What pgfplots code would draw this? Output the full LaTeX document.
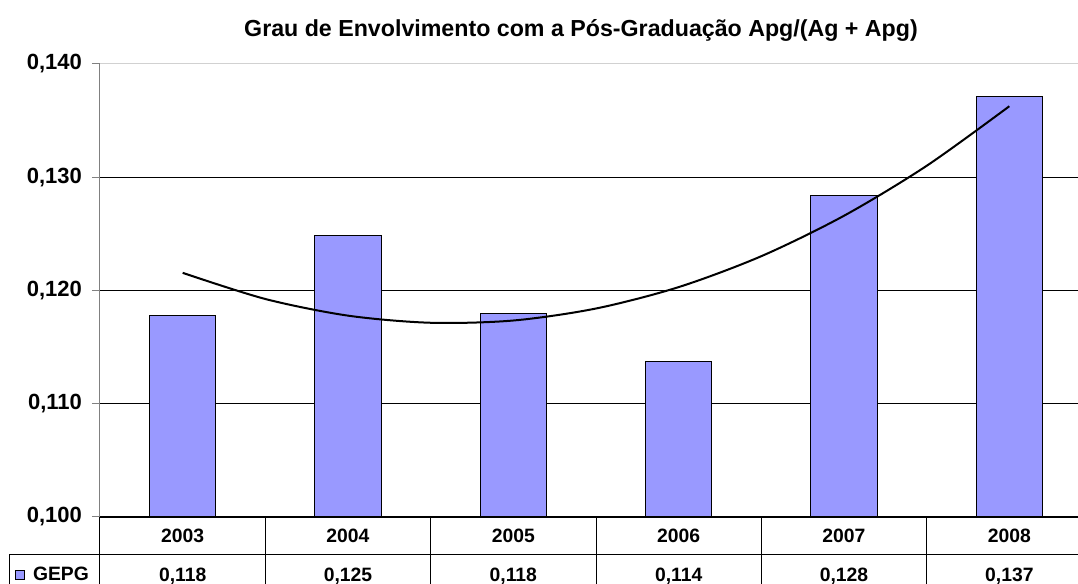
\documentclass[border=0pt]{standalone}
\usepackage{pgfplots}
\pgfplotsset{compat=1.18}
\usepackage{fontspec}
\setmainfont{Liberation Sans}
\definecolor{barblue}{HTML}{9999FF}
\definecolor{axgray}{HTML}{808080}
\begin{document}
\begin{tikzpicture}
\begin{axis}[
  name=ax,
  scale only axis,
  width=744pt, height=339.75pt,
  xmin=0.5, xmax=6.5,
  ymin=0.1, ymax=0.14,
  clip=false,
  axis x line*=bottom,
  axis y line*=left,
  x axis line style={black, line width=0.75pt},
  y axis line style={axgray, line width=0.75pt},
  ytick={0.10,0.11,0.12,0.13},
  extra y ticks={0.14},
  extra y tick style={grid style={color=black!18, line width=0.75pt}},
  ymajorgrids,
  grid style={black, line width=0.6pt},
  ytick align=outside,
  major tick length=6pt,
  ytick style={axgray, line width=0.75pt},
  yticklabel style={font=\fontsize{16.5}{18}\selectfont\bfseries, xshift=-4pt},
  /pgf/number format/.cd, fixed, fixed zerofill, precision=3, use comma, assume math mode=true,
  /pgfplots/.cd,
  xtick={1,2,3,4,5,6},
  xticklabels={2003,2004,2005,2006,2007,2008},
  xtick style={draw=none},
  xticklabel style={font=\fontsize{14.5}{16}\selectfont\bfseries, anchor=base, inner sep=0pt, yshift=-19.5pt},
  extra x ticks={1,2,3,4,5,6},
  extra x tick labels={{0,118},{0,125},{0,118},{0,114},{0,128},{0,137}},
  extra x tick style={xtick style={draw=none}, xticklabel style={yshift=-29.25pt}},
  title={Grau de Envolvimento com a Pós-Graduação Apg/(Ag + Apg)},
  title style={font=\fontsize{17.4}{19}\selectfont\bfseries, at={(axis description cs:0.4849,1.0441)}, anchor=base, inner sep=0pt},
  legend style={at={(axis description cs:-0.0857,-0.128)}, anchor=west, draw=none, fill=none, inner sep=0pt,
    font=\fontsize{14.5}{16}\selectfont\bfseries, column sep=4pt},
  legend image code/.code={\draw[fill=barblue, draw=black, line width=0.6pt] (0pt,-3.375pt) rectangle (6.75pt,3.375pt);},
]
\addplot[ybar, bar width=0.4, fill=barblue, draw=black, line width=0.75pt] coordinates {
  (1,0.11775) (2,0.1249) (3,0.118) (4,0.1137) (5,0.1284) (6,0.1371)
};
\addlegendentry{GEPG}
\addplot[black, line width=1.5pt, smooth, forget plot] coordinates {
  (1,0.12156) (1.5,0.11925) (2,0.11778) (2.5,0.11715) (3,0.11735) (3.5,0.11841)
  (4,0.12030) (4.5,0.12303) (5,0.12660) (5.5,0.13101) (6,0.13627)
};
% data table lines
\draw[black, line width=0.75pt] (rel axis cs:-0.0917,-0.0817) -- (rel axis cs:1,-0.0817);
\draw[black, line width=0.75pt] (rel axis cs:-0.0917,-0.0817) -- (rel axis cs:-0.0917,-0.2);
\draw[black, line width=0.75pt] (rel axis cs:0,0) -- (rel axis cs:0,-0.2);
\draw[black, line width=0.75pt] (rel axis cs:0.16667,0) -- (rel axis cs:0.16667,-0.2);
\draw[black, line width=0.75pt] (rel axis cs:0.33333,0) -- (rel axis cs:0.33333,-0.2);
\draw[black, line width=0.75pt] (rel axis cs:0.5,0) -- (rel axis cs:0.5,-0.2);
\draw[black, line width=0.75pt] (rel axis cs:0.66667,0) -- (rel axis cs:0.66667,-0.2);
\draw[black, line width=0.75pt] (rel axis cs:0.83333,0) -- (rel axis cs:0.83333,-0.2);
\draw[black, line width=0.75pt] (rel axis cs:1,0) -- (rel axis cs:1,-0.2);
\end{axis}
\pgfresetboundingbox
\path[use as bounding box] ([xshift=-75pt,yshift=-50.25pt]ax.south west) rectangle ([xshift=733.5pt,yshift=48pt]ax.north west);
\end{tikzpicture}
\end{document}
